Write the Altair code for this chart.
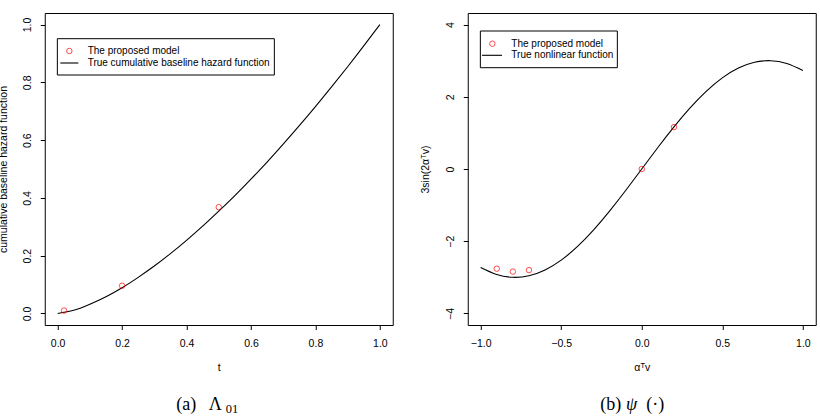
import altair as alt
import pandas as pd

# ---- data ----
t_grid = [0.0, 0.05, 0.10, 0.15, 0.20, 0.25, 0.30, 0.35, 0.40, 0.45, 0.50,
          0.55, 0.60, 0.65, 0.70, 0.75, 0.80, 0.85, 0.90, 0.95, 1.0]
lam_true = [0.0, 0.011, 0.032, 0.058, 0.089, 0.125, 0.164, 0.207, 0.253, 0.302, 0.354,
            0.408, 0.465, 0.524, 0.586, 0.650, 0.716, 0.784, 0.854, 0.926, 1.0]
t_est = [0.02, 0.2, 0.5]
lam_est = [0.010, 0.096, 0.368]

u_grid = [-1.0, -0.9, -0.8, -0.7, -0.6, -0.5, -0.4, -0.3, -0.2, -0.1, 0.0,
          0.1, 0.2, 0.3, 0.4, 0.5, 0.6, 0.7, 0.8, 0.9, 1.0]
psi_true = [-2.728, -2.922, -2.999, -2.956, -2.796, -2.524, -2.152, -1.694, -1.168, -0.596, 0.0,
            0.596, 1.168, 1.694, 2.152, 2.524, 2.796, 2.956, 2.999, 2.922, 2.728]
u_est = [-0.9, -0.8, -0.7, 0.0, 0.2]
psi_est = [-2.76, -2.84, -2.80, 0.0, 1.16]

left_xticks = [0.0, 0.2, 0.4, 0.6, 0.8, 1.0]
left_yticks = [0.0, 0.2, 0.4, 0.6, 0.8, 1.0]
right_xticks = [-1.0, -0.5, 0.0, 0.5, 1.0]
right_yticks = [-4, -2, 0, 2, 4]

W, H = 348, 312
SANS = "Liberation Sans"
SERIF = "Liberation Serif"
AX = 10.5
one = pd.DataFrame({"k": [0]})


def xaxis(values, fmt, title):
    return alt.Axis(values=values, format=fmt, title=title, domain=False, grid=False,
                    ticks=True, tickSize=4.5, tickColor="black", tickWidth=1,
                    labelFont=SANS, labelFontSize=AX, labelColor="black", labelAngle=0,
                    labelBaseline="middle", labelPadding=13.5, labelFlush=False,
                    labelOverlap=False, titleFont=SANS, titleFontSize=AX,
                    titleFontWeight="normal", titleColor="black", titleY=42,
                    titleX=W / 2, titleBaseline="middle", titleAlign="center")


def yaxis(values, fmt, title, tx):
    return alt.Axis(values=values, format=fmt, title=title, domain=False, grid=False,
                    ticks=True, tickSize=4.5, tickColor="black", tickWidth=1,
                    labelFont=SANS, labelFontSize=AX, labelColor="black", labelAngle=270,
                    labelAlign="center", labelBaseline="middle", labelPadding=12.8,
                    labelFlush=False, labelOverlap=False, titleFont=SANS,
                    titleFontSize=AX, titleFontWeight="normal", titleColor="black",
                    titleAngle=270, titleX=tx, titleY=H / 2, titleAlign="center",
                    titleBaseline="middle")


def panel(xg, yg, xe, ye, xdom, ydom, xax, yax, leg, lab2, caption_layers):
    curve = pd.DataFrame({"x": xg, "y": yg})
    est = pd.DataFrame({"x": xe, "y": ye})
    xs = alt.Scale(domain=xdom, nice=False, zero=False)
    ys = alt.Scale(domain=ydom, nice=False, zero=False)
    line = alt.Chart(curve).mark_line(color="black", strokeWidth=1.1, interpolate="natural").encode(
        x=alt.X("x:Q", scale=xs, axis=xax), y=alt.Y("y:Q", scale=ys, axis=yax))
    pts = alt.Chart(est).mark_point(shape="circle", filled=False, color="red", size=30,
                                    strokeWidth=1).encode(x="x:Q", y="y:Q")
    bx0, bx1, by0, by1, px, py, lx0, lx1, ly, tx = leg
    box = alt.Chart(one).mark_rect(fill="white", stroke="black", strokeWidth=1).encode(
        x=alt.value(bx0), x2=alt.value(bx1), y=alt.value(by0), y2=alt.value(by1))
    lp = alt.Chart(one).mark_point(shape="circle", filled=False, color="red", size=30,
                                   strokeWidth=1).encode(x=alt.value(px), y=alt.value(py))
    lr = alt.Chart(one).mark_rule(color="black", strokeWidth=1.1).encode(
        x=alt.value(lx0), x2=alt.value(lx1), y=alt.value(ly))
    t1 = alt.Chart(one).mark_text(align="left", baseline="middle", font=SANS, fontSize=10,
                                  color="black", text="The proposed model").encode(
        x=alt.value(tx), y=alt.value(py))
    t2 = alt.Chart(one).mark_text(align="left", baseline="middle", font=SANS, fontSize=10,
                                  color="black", text=lab2).encode(
        x=alt.value(tx), y=alt.value(ly))
    return alt.layer(line, pts, box, lp, lr, t1, t2, *caption_layers).properties(width=W, height=H)


def cap(text, x, y, size=18, style="normal"):
    return alt.Chart(one).mark_text(align="left", baseline="alphabetic", font=SERIF,
                                    fontSize=size, fontStyle=style, color="black",
                                    text=text).encode(x=alt.value(x), y=alt.value(y))


left = panel(t_grid, lam_true, t_est, lam_est, [-0.04, 1.04], [-0.04, 1.04],
             xaxis(left_xticks, ".1f", "t"),
             yaxis(left_yticks, ".1f", "cumulative baseline hazard function", -41.4),
             (12.6, 229.6, 25.7, 62, 24.6, 38, 15.6, 33.6, 50, 42.9),
             "True cumulative baseline hazard function",
             [cap("(a)", 131.6, 397), cap("Λ", 164, 397), cap("01", 181, 400, size=12.5)])

right = panel(u_grid, psi_true, u_est, psi_est, [-1.08, 1.08], [-4.32, 4.32],
              xaxis(right_xticks, ".1f", "αᵀv"),
              yaxis(right_yticks, "d", "3sin(2αᵀv)", -42.4),
              (12.6, 149.6, 18, 54.7, 24.6, 30.7, 14.3, 34.3, 42.3, 43.6),
              "True nonlinear function",
              [cap("(b)", 132.6, 397), cap("ψ", 158.3, 397, style="italic"),
               cap("(·)", 178.6, 397)])

chart = alt.hconcat(left, right, spacing=75, bounds="flush").properties(
    padding={"left": -2.25, "top": 12, "right": 0, "bottom": 0},
    background="white",
).configure_view(stroke="black", strokeWidth=1)

chart.save("out.html", embed_options={"renderer": "svg", "actions": False})
